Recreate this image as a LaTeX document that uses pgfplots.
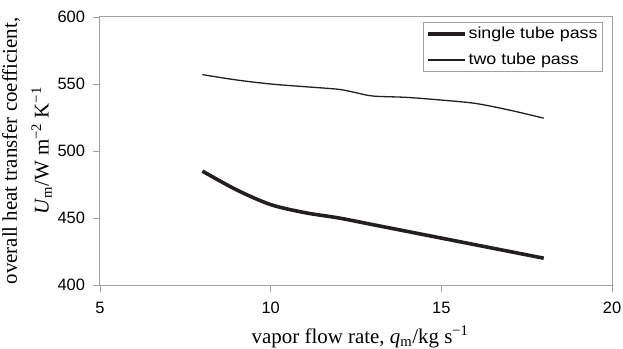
\documentclass[border=0pt]{standalone}
\usepackage{fontspec}
\setmainfont{Liberation Serif}
\newfontfamily\arial{Liberation Sans}
\newfontfamily\arialwide[FakeStretch=1.12]{Liberation Sans}
\usepackage{pgfplots}
\pgfplotsset{compat=1.18}

\definecolor{axisgray}{HTML}{A0A0A0}
\definecolor{curve}{HTML}{231F20}

\begin{document}
\begin{tikzpicture}
\begin{axis}[
  scale only axis,
  width=512bp, height=268bp,
  xmin=5, xmax=20, ymin=400, ymax=600,
  xtick={5,10,15,20},
  ytick={400,450,500,550,600},
  axis line style={draw=axisgray, line width=1bp},
  tick style={draw=axisgray, line width=0.8bp},
  tick align=outside, tick pos=left,
  major tick length=6.5bp,
  /pgf/number format/assume math mode=true,
  ticklabel style={font=\arial\fontsize{16.5}{19}\selectfont},
  yticklabel style={xshift=-5bp},
  xticklabel style={yshift=-7bp},
  xlabel={vapor flow rate, \textit{q}\textsubscript{m}/kg s\textsuperscript{−1}},
  xlabel style={font=\fontsize{21}{25}\selectfont,
    at={(axis description cs:0.508,0)}, anchor=base, yshift=-58bp},
  ylabel={overall heat transfer coefficient,\\
    \textit{U}\textsubscript{m}/W m\textsuperscript{−2} K\textsuperscript{−1}},
  ylabel style={font=\fontsize{21}{32}\selectfont, align=center,
    at={(axis description cs:-0.1426,0.5)}, anchor=center},
  legend cell align=left,
  legend style={draw=axisgray, line width=0.8bp,
    font=\arialwide\fontsize{16}{19}\selectfont,
    at={(axis description cs:1,1)}, anchor=north east,
    xshift=-9bp, yshift=-5bp, row sep=9bp,
    inner xsep=3bp, inner ysep=3bp},
  legend image code/.code={%
    \draw[#1] (0bp,0bp) -- (37bp,0bp);},
]
% single tube pass
\addplot[curve, line width=3.6bp, smooth] coordinates {
  (8,485) (9,471) (10,460) (11,454) (12,450) (13,445)
  (14,440) (15,435) (16,430) (17,425) (18,420)
};
\addlegendentry{single tube pass}
% two tube pass
\addplot[curve, line width=1.3bp, smooth] coordinates {
  (8,557) (9,553) (10,550) (11,548) (12,546) (12.5,543.5)
  (13,541) (14,540) (15,538) (16,535.5) (17,530.5) (18,524.5)
};
\addlegendentry{two tube pass}
\end{axis}
\pgfresetboundingbox
\path (current axis.south west) ++(-100bp,-64bp) rectangle ++(623bp,349bp);
\end{tikzpicture}
\end{document}
